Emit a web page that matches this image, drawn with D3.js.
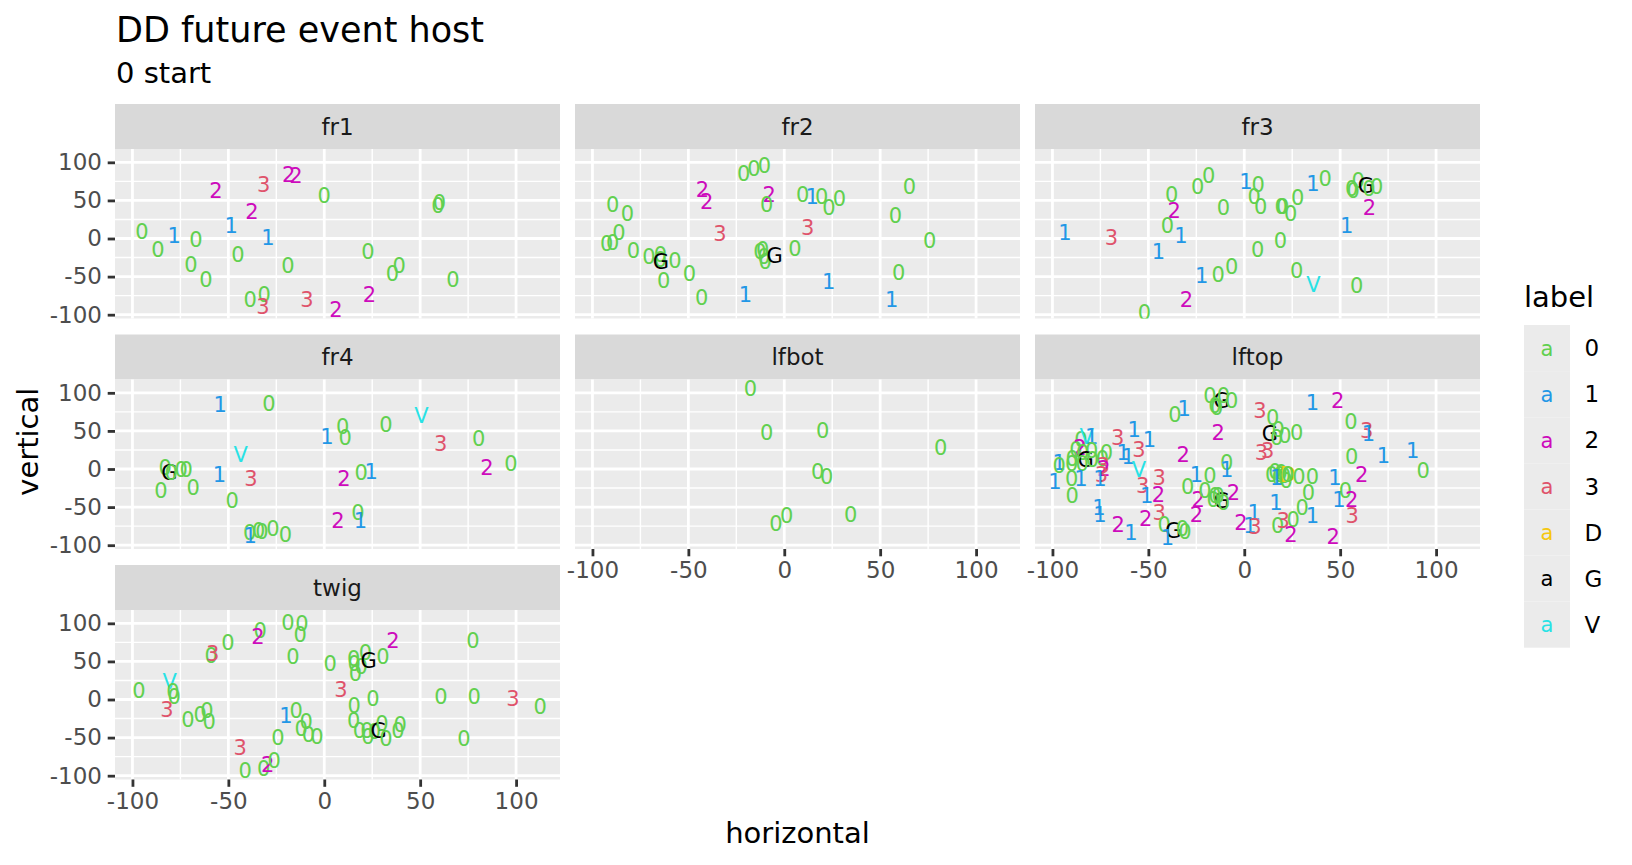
<!DOCTYPE html>
<html>
<head>
<meta charset="utf-8">
<script src="https://cdn.jsdelivr.net/npm/d3@7"></script>
<style>
  body { margin: 0; background: #fff; }
  text { font-family: "DejaVu Sans", sans-serif; }
</style>
</head>
<body>
<svg id="viz" width="1632" height="865"></svg>
<script>
// facets, legend levels and colours
var facetNames = ["fr1", "fr2", "fr3", "fr4", "lfbot", "lftop", "twig"];
var labelLevels = ["0", "1", "2", "3", "D", "G", "V"];
var labelColours = ["#61D04F", "#2297E6", "#CD0BBC", "#DF536B", "#F5C710", "#000000", "#28E2E5"];
var majorBreaks = [-100, -50, 0, 50, 100];
var minorBreaks = [-75, -25, 25, 75];

// points per facet: [label, horizontal, vertical]
var fr1 = [["0",-95.1,9.6],["0",-86.7,-14.0],["1",-78.2,4.4],["0",-66.9,-1.3],["0",-69.5,-33.8],["0",-61.7,-53.5],
  ["2",-56.5,63.6],["1",-48.5,17.5],["0",-45.0,-21.1],["2",-37.7,35.1],["3",-31.6,71.1],["1",-29.4,1.3],
  ["0",-38.6,-80.3],["0",-31.3,-73.2],["3",-32.0,-88.6],["2",-18.6,84.6],["2",-14.8,82.5],["0",-18.9,-35.1],
  ["0",0,56.1],["3",-9.0,-80.3],["2",6.1,-93.4],["0",22.8,-16.7],["2",23.6,-73.7],["0",35.5,-45.2],
  ["0",39.1,-35.1],["0",59.3,43.0],["0",60.1,46.9],["0",67.1,-53.9]];

var fr2 = [["0",-89.5,44.7],["0",-81.7,32.9],["0",-86.2,7.9],["0",-92.6,-6.6],["0",-89.5,-5.3],["0",-78.6,-15.8],
  ["0",-70.6,-23.2],["0",-64.5,-20.6],["0",-57.0,-28.5],["0",-64.5,-27.0],["G",-64.3,-30.7],["0",-62.9,-54.8],
  ["0",-49.4,-46.5],["0",-43.1,-77.6],["2",-42.6,64.5],["2",-40.5,49.1],["3",-33.5,6.6],["0",-21.2,86.0],
  ["0",-15.8,92.1],["0",-10.3,96.1],["2",-7.8,57.9],["0",-9.2,44.7],["1",-20.2,-73.2],["0",-12.7,-17.5],
  ["0",-11.3,-14.5],["0",-10.6,-24.1],["0",-9.9,-30.7],["G",-5.0,-21.9],["0",5.6,-13.6],["0",9.6,57.9],
  ["1",14.6,54.8],["0",19.5,54.8],["0",23.3,40.4],["0",28.8,52.6],["3",12.2,14.0],["1",23.1,-55.7],
  ["0",65.2,68.4],["0",58.0,30.3],["0",75.8,-2.2],["0",59.6,-43.9],["1",56.0,-80.3]];

var fr3 = [["1",-93.5,7.9],["3",-69.2,1.3],["0",-37.9,57.9],["2",-36.5,37.3],["0",-40.0,17.5],["1",-33.0,4.4],
  ["1",-44.7,-16.7],["0",-24.3,68.9],["0",-18.6,83.3],["0",-10.8,40.8],["1",-22.2,-48.2],["0",-13.6,-46.9],
  ["0",-6.6,-36.4],["2",-30.2,-80.3],["0",-52.0,-96.5],["1",0.9,75.4],["0",7.3,71.1],["0",5.2,55.7],
  ["0",8.5,42.5],["0",7.0,-14.5],["0",19.3,41.7],["0",20.0,42.5],["0",24.2,32.9],["0",27.8,53.9],
  ["0",18.9,-2.2],["0",27.3,-41.7],["V",36.0,-60.1],["1",35.8,72.4],["0",42.2,78.9],["1",53.4,17.5],
  ["0",58.6,-61.4],["0",56.0,65.8],["0",59.4,76.8],["0",56.8,63.6],["G",63.4,70.2],["0",65.0,65.8],
  ["0",69.0,68.0],["2",65.2,40.4]];

var fr4 = [["1",-54.2,84.6],["0",-28.8,86.0],["V",-43.6,19.3],["0",-82.9,2.6],["G",-80.8,-3.9],["0",-79.8,-3.9],
  ["0",-74.6,-0.9],["0",-72.0,-0.9],["0",-85.2,-28.1],["0",-68.3,-23.7],["1",-54.7,-7.5],["3",-38.2,-12.7],
  ["0",-48.0,-41.2],["0",-38.9,-82.9],["1",-38.6,-87.3],["0",-34.2,-80.7],["0",-32.5,-81.6],["0",-26.8,-78.5],
  ["0",-20.3,-86.0],["1",1.4,42.1],["0",9.6,55.3],["0",10.9,41.2],["0",32.2,58.3],["V",50.6,69.7],
  ["3",60.7,33.3],["0",80.5,39.9],["2",84.8,2.6],["0",97.3,7.9],["2",10.3,-11.8],["0",19.3,-3.9],
  ["1",24.5,-2.6],["0",17.6,-57.5],["2",7.1,-67.5],["1",18.8,-67.5]];

var lfbot = [["0",-17.6,105.7],["0",-9.2,47.8],["0",20.0,50.9],["0",81.5,28.1],["0",17.4,-2.6],["0",22.1,-9.2],
  ["0",1.2,-61.0],["0",-4.3,-71.9],["0",34.6,-59.6]];

var lftop = [["0",-85.2,38.6],["V",-82.2,43.0],["1",-79.6,43.0],["0",-87.8,25.4],["2",-85.7,28.5],["0",-84.3,21.1],
  ["0",-79.6,24.1],["0",-71.8,21.9],["0",-74.0,14.0],["G",-82.7,13.2],["0",-79.2,12.3],["0",-89.7,14.0],
  ["0",-90.0,7.9],["1",-96.5,8.8],["0",-96.5,5.3],["0",-84.5,7.9],["3",-73.5,4.4],["2",-73.2,0.9],
  ["3",-74.4,-6.6],["1",-75.3,-12.3],["0",-90.0,-12.3],["1",-85.2,-12.3],["1",-98.7,-16.7],["0",-89.7,-34.5],
  ["1",-75.8,-51.0],["1",-75.3,-59.0],["1",-57.4,52.6],["3",-66.0,41.7],["1",-49.5,38.6],["3",-54.9,26.3],
  ["1",-63.1,21.1],["1",-60.5,16.7],["V",-54.9,-0.9],["3",-53.0,-21.1],["1",-50.9,-35.1],["3",-44.3,-11.0],
  ["2",-44.8,-32.9],["2",-31.8,19.7],["0",-36.1,71.1],["1",-31.3,79.8],["2",-65.7,-72.4],["1",-59.1,-83.3],
  ["2",-51.4,-64.5],["3",-44.3,-57.0],["0",-41.7,-72.4],["G",-37.0,-80.3],["0",-32.2,-77.6],["0",-30.9,-82.0],
  ["1",-40.0,-89.9],["0",-29.5,-22.8],["2",-24.9,-59.2],
  ["0",-17.9,96.5],["G",-11.8,89.9],["0",-14.4,81.1],["0",-6.6,89.9],["0",-10.9,96.5],["0",-15.3,83.3],
  ["3",8.2,76.8],["0",14.8,68.0],["G",13.4,46.1],["0",17.7,52.6],["0",21.2,43.9],["0",27.3,48.2],
  ["0",16.9,41.7],["3",12.2,24.1],["3",9.0,21.1],["2",-13.6,48.2],["1",35.5,87.7],["2",48.7,89.9],
  ["0",55.6,62.3],["3",63.8,50.4],["1",64.7,46.1],["0",56.0,16.7],["1",72.5,18.4],["1",87.8,24.1],
  ["0",93.3,-2.2],["2",61.2,-6.6],["0",-9.2,8.8],["1",-9.2,-0.9],["1",-24.9,-6.6],["0",-17.9,-8.8],
  ["2",-24.0,-39.5],["0",-20.5,-28.5],["G",-11.8,-41.7],["2",-5.7,-30.7],["0",-16.2,-39.5],["0",-13.6,-35.1],
  ["0",-15.3,-35.1],["0",-10.9,-43.9],["0",14.3,-6.6],["0",16.0,-3.5],["0",18.6,-6.6],["0",20.9,-8.8],
  ["0",19.3,-4.4],["0",17.7,-11.0],["0",21.9,-15.4],["1",16.9,-11.0],["D",22.9,-6.6],["0",22.6,-6.6],
  ["0",28.5,-9.6],["0",35.5,-9.6],["1",47.3,-11.0],["0",33.4,-31.0],["0",52.8,-28.5],["1",49.4,-39.5],
  ["2",56.0,-39.5],["0",30.2,-50.4],["1",16.5,-43.9],["1",5.2,-57.0],["3",56.3,-61.4],["1",35.5,-61.4],
  ["0",25.5,-65.8],["0",17.4,-74.6],["3",20.3,-68.0],["2",-1.7,-70.2],["1",3.0,-74.6],["3",5.6,-75.9],
  ["2",24.3,-85.5],["2",46.4,-88.0]];

var twig = [["0",-96.6,12.3],["V",-80.6,23.2],["0",-78.9,10.1],["0",-78.2,3.5],["3",-82.0,-13.2],["0",-71.1,-25.9],
  ["0",-64.7,-19.3],["0",-61.2,-14.9],["0",-60.0,-28.5],["0",-58.9,58.3],["3",-58.2,60.5],["0",-50.2,74.6],
  ["0",-33.4,91.2],["2",-34.6,82.5],["0",-18.9,100.9],["0",-11.6,100.0],["0",-12.5,86.0],["0",-16.3,57.0],
  ["3",-43.8,-62.3],["0",-24.2,-50.4],["1",-20.0,-21.5],["0",-14.6,-14.9],["0",-9.4,-29.4],["0",-12.0,-38.6],
  ["0",-8.2,-45.6],["0",-3.8,-48.2],["0",-41.2,-93.0],["0",-31.6,-90.8],["2",-29.5,-85.1],["0",-26.1,-79.8],
  ["0",3.1,47.4],["3",8.7,13.2],["0",15.6,-7.5],["0",15.3,53.9],["0",15.6,47.4],["0",21.4,61.4],
  ["0",19.3,43.0],["0",16.2,34.2],["G",23.1,51.8],["0",30.6,56.1],["2",35.8,78.1],["0",25.4,1.3],
  ["0",15.3,-28.1],["0",18.4,-41.2],["0",22.2,-40.4],["0",22.8,-49.1],["0",26.1,-42.5],["G",28.3,-40.4],
  ["0",30.1,-31.6],["0",32.2,-51.3],["0",38.4,-40.4],["0",39.6,-32.5],["0",60.8,3.5],["0",78.2,3.5],
  ["3",98.4,1.3],["0",112.6,-8.8],["0",77.5,78.1],["0",72.8,-51.3]];

var facetData = {fr1: fr1, fr2: fr2, fr3: fr3, fr4: fr4, lfbot: lfbot, lftop: lftop, twig: twig};

// layout
var panelW = 445, panelH = 169.5, stripH = 45;
var colLeft = function(c) { return 115 + c * 460; };
var rowTop = function(r) { return 104 + r * 230.5; };

var x = d3.scaleLinear().domain([-109.1, 122.9]).range([0, panelW]);
var y = d3.scaleLinear().domain([-105, 117.5]).range([panelH, 0]);
var colour = d3.scaleOrdinal().domain(labelLevels).range(labelColours);

var svg = d3.select("#viz");
svg.append("rect").attr("width", 1632).attr("height", 865).attr("fill", "#fff");

svg.append("text").attr("x", 116).attr("y", 41.7)
  .attr("font-size", 35).attr("fill", "#000").text("DD future event host");
svg.append("text").attr("x", 116).attr("y", 82.7)
  .attr("font-size", 29).attr("fill", "#000").text("0 start");

var defs = svg.append("defs");
defs.append("clipPath").attr("id", "panelclip")
  .append("rect").attr("width", panelW).attr("height", panelH);

function styleAxis(g) {
  g.select(".domain").remove();
  g.selectAll(".tick line").attr("stroke", "#333333").attr("stroke-width", 2.8);
  g.selectAll(".tick text").attr("fill", "#4D4D4D").attr("font-size", 23)
    .attr("font-family", "DejaVu Sans");
}

facetNames.forEach(function(name, i) {
  var c = i % 3, r = Math.floor(i / 3);
  var g = svg.append("g").attr("transform", "translate(" + colLeft(c) + "," + rowTop(r) + ")");

  // strip
  g.append("rect").attr("width", panelW).attr("height", stripH).attr("fill", "#D9D9D9");
  g.append("text").attr("x", panelW / 2).attr("y", stripH / 2).attr("dy", "0.36em")
    .attr("text-anchor", "middle").attr("font-size", 23).attr("fill", "#1A1A1A").text(name);

  var p = g.append("g").attr("transform", "translate(0," + stripH + ")");
  p.append("rect").attr("width", panelW).attr("height", panelH).attr("fill", "#EBEBEB");

  // grid
  p.selectAll(".vminor").data(minorBreaks).enter().append("line")
    .attr("x1", d => x(d)).attr("x2", d => x(d)).attr("y1", 0).attr("y2", panelH)
    .attr("stroke", "#fff").attr("stroke-width", 1.4);
  p.selectAll(".hminor").data(minorBreaks).enter().append("line")
    .attr("y1", d => y(d)).attr("y2", d => y(d)).attr("x1", 0).attr("x2", panelW)
    .attr("stroke", "#fff").attr("stroke-width", 1.4);
  p.selectAll(".vmajor").data(majorBreaks).enter().append("line")
    .attr("x1", d => x(d)).attr("x2", d => x(d)).attr("y1", 0).attr("y2", panelH)
    .attr("stroke", "#fff").attr("stroke-width", 2.8);
  p.selectAll(".hmajor").data(majorBreaks).enter().append("line")
    .attr("y1", d => y(d)).attr("y2", d => y(d)).attr("x1", 0).attr("x2", panelW)
    .attr("stroke", "#fff").attr("stroke-width", 2.8);

  // labels as points
  p.append("g").attr("clip-path", "url(#panelclip)")
    .selectAll("text").data(facetData[name]).enter().append("text")
    .attr("x", d => x(d[1])).attr("y", d => y(d[2])).attr("dy", "0.36em")
    .attr("text-anchor", "middle").attr("font-size", 21)
    .attr("fill", d => colour(d[0])).text(d => d[0]);

  // left axis on first column
  if (c === 0) {
    p.append("g")
      .call(d3.axisLeft(y).tickValues(majorBreaks).tickSize(7.3).tickPadding(5.8).tickFormat(d => String(d)))
      .call(styleAxis);
  }
  // bottom axis where there is no panel below
  if (i + 3 >= facetNames.length) {
    p.append("g").attr("transform", "translate(0," + panelH + ")")
      .call(d3.axisBottom(x).tickValues(majorBreaks).tickSize(7.3).tickPadding(5.8).tickFormat(d => String(d)))
      .call(styleAxis);
  }
});

// axis titles
svg.append("text").attr("x", 797.5).attr("y", 843).attr("text-anchor", "middle")
  .attr("font-size", 29).attr("fill", "#000").text("horizontal");
svg.append("text").attr("transform", "translate(38,441.7) rotate(-90)").attr("text-anchor", "middle")
  .attr("font-size", 29).attr("fill", "#000").text("vertical");

// legend
var leg = svg.append("g").attr("transform", "translate(1524,0)");
leg.append("text").attr("x", 0).attr("y", 306.7).attr("font-size", 29).attr("fill", "#000").text("label");
var keys = leg.selectAll(".key").data(labelLevels).enter().append("g")
  .attr("transform", (d, i) => "translate(0," + (325 + i * 46.1) + ")");
keys.append("rect").attr("width", 46).attr("height", 46.1).attr("fill", "#EBEBEB");
keys.append("text").attr("x", 23).attr("y", 23).attr("dy", "0.36em").attr("text-anchor", "middle")
  .attr("font-size", 21).attr("fill", d => colour(d)).text("a");
keys.append("text").attr("x", 60.5).attr("y", 23).attr("dy", "0.36em")
  .attr("font-size", 23).attr("fill", "#000").text(d => d);
</script>
</body>
</html>
